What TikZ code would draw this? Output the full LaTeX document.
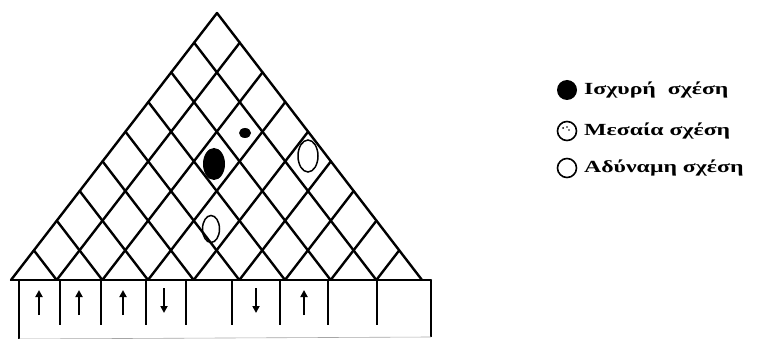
\documentclass[tikz,border=0pt]{standalone}
\usepackage{fontspec}
\newfontfamily\grfont[FakeStretch=1.4]{Liberation Serif}
\usetikzlibrary{calc,arrows.meta}
\tikzset{
  lat/.style={line width=2.4pt, line cap=round, line join=round},
  boxline/.style={line width=2pt},
  arr/.style={line width=2.2pt, -{Triangle[length=7pt,width=7pt]}},
  legtext/.style={anchor=west, inner sep=0pt, font=\grfont\bfseries\fontsize{17}{20}\selectfont},
}
\begin{document}
\begin{tikzpicture}[x=1pt,y=-1pt]
\useasboundingbox (0,0) rectangle (763,339);
% triangle corners
\coordinate (A) at (217,13);
\coordinate (L) at (11,280);
\coordinate (R) at (422,280);
\coordinate (TR) at (431,280);
\coordinate (BL) at (19,339);
\coordinate (BR) at (431,337);
\coordinate (TL) at (19,280);
% lattice
\foreach \k in {1,...,8} {
  \coordinate (b\k) at ($(L)!\k/9!(R)$);
  \coordinate (r\k) at ($(R)!{(9-\k)/9}!(A)$);
  \coordinate (l\k) at ($(L)!\k/9!(A)$);
  \draw[lat] (b\k) -- (r\k);
  \draw[lat] (b\k) -- (l\k);
}
\draw[lat] (L) -- (A) -- (R);
\draw[lat] (L) -- (TR);
% box
\draw[boxline] (TL) -- (BL);
\draw[boxline] (TR) -- (BR);
\draw[line width=0.6pt, black!35] (BL) -- (BR);
\foreach \x [count=\i] in {60,101,146,186,232,280,328,377} {
  \coordinate (dt\i) at (\x,280);
  \coordinate (db\i) at (\x,325);
  \draw[boxline] (dt\i) -- (db\i);
}
% arrows
\foreach \x [count=\i] in {39,79,123,304} {
  \coordinate (ua\i) at (\x,315);
  \coordinate (ub\i) at (\x,290);
  \draw[arr] (ua\i) -- (ub\i);
}
\foreach \x [count=\i] in {164,256} {
  \coordinate (da\i) at (\x,288);
  \coordinate (dz\i) at (\x,313);
  \draw[arr] (da\i) -- (dz\i);
}
% relation marks
\fill (214,164) ellipse [x radius=11, y radius=16];
\fill (245,133) ellipse [x radius=6, y radius=5];
\draw[line width=1.5pt] (308,156) ellipse [x radius=10, y radius=16];
\draw[line width=1.5pt] (211,229) ellipse [x radius=8.5, y radius=13.5];
% legend
\fill (567,90) circle (10);
\node[legtext] (t1) at (584,90) {Ισχυρή\ \ σχέση};
\draw[line width=1.6pt] (567,131) circle (9.5);
\fill (563,128) circle (1);
\fill (567,127) circle (0.8);
\fill (569,130) circle (0.8);
\node[legtext] (t2) at (584,131) {Μεσαία σχέση};
\draw[line width=1.6pt] (567,168) circle (9.5);
\node[legtext] (t3) at (584,168) {Αδύναμη σχέση};
\end{tikzpicture}
\end{document}
